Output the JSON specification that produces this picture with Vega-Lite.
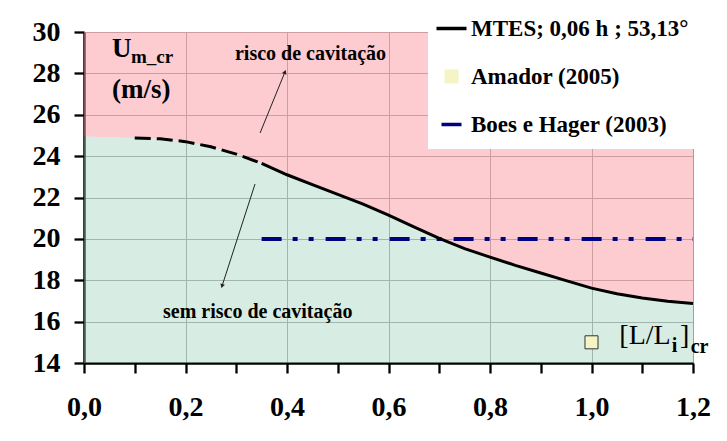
{
  "$schema": "https://vega.github.io/schema/vega-lite/v6.json",
  "width": 609,
  "height": 331,
  "autosize": {"type": "none"},
  "padding": {"left": 84, "top": 32, "right": 34, "bottom": 78},
  "background": "white",
  "datasets": {
    "curve": [
      {"x": 0.0, "y": 24.95, "part": "edge"},
      {"x": 0.1, "y": 24.88, "part": "dashed"},
      {"x": 0.15, "y": 24.84, "part": "dashed"},
      {"x": 0.2, "y": 24.7, "part": "dashed"},
      {"x": 0.25, "y": 24.45, "part": "dashed"},
      {"x": 0.3, "y": 24.1, "part": "dashed"},
      {"x": 0.35, "y": 23.65, "part": "dashed"},
      {"x": 0.35, "y": 23.65, "part": "solid"},
      {"x": 0.4, "y": 23.1, "part": "solid"},
      {"x": 0.45, "y": 22.62, "part": "solid"},
      {"x": 0.5, "y": 22.15, "part": "solid"},
      {"x": 0.55, "y": 21.68, "part": "solid"},
      {"x": 0.6, "y": 21.15, "part": "solid"},
      {"x": 0.65, "y": 20.58, "part": "solid"},
      {"x": 0.7, "y": 20.02, "part": "solid"},
      {"x": 0.75, "y": 19.53, "part": "solid"},
      {"x": 0.8, "y": 19.12, "part": "solid"},
      {"x": 0.85, "y": 18.72, "part": "solid"},
      {"x": 0.9, "y": 18.35, "part": "solid"},
      {"x": 0.95, "y": 17.98, "part": "solid"},
      {"x": 1.0, "y": 17.62, "part": "solid"},
      {"x": 1.05, "y": 17.35, "part": "solid"},
      {"x": 1.1, "y": 17.14, "part": "solid"},
      {"x": 1.15, "y": 16.98, "part": "solid"},
      {"x": 1.2, "y": 16.88, "part": "solid"}
    ],
    "boes": [
      {"x": 0.35, "y": 20},
      {"x": 1.2, "y": 20}
    ],
    "amador": [
      {"x": 1.0, "y": 15}
    ],
    "arrows": [
      {"dir": "up", "x": 0.347, "y": 25.12, "x2": 0.396, "y2": 28.07},
      {"dir": "down", "x": 0.337, "y": 22.65, "x2": 0.272, "y2": 17.72}
    ],
    "notes": [
      {"text": "risco de cavitação", "x": 0.2975, "y": 28.65},
      {"text": "sem risco de cavitação", "x": 0.1557, "y": 16.18},
      {"text": "U", "x": 0.0552, "y": 28.8},
      {"text": "m_cr", "x": 0.0926, "y": 28.49},
      {"text": "(m/s)", "x": 0.0552, "y": 26.8},
      {"text": "[L/L", "x": 1.0548, "y": 14.92},
      {"text": "i", "x": 1.158, "y": 14.55},
      {"text": "]", "x": 1.1744, "y": 14.92},
      {"text": "cr", "x": 1.1954, "y": 14.5}
    ]
  },
  "layer": [
    {
      "data": {"name": "curve"},
      "transform": [{"filter": "datum.part !== 'dashed' || datum.x < 0.35"}],
      "mark": {"type": "area", "fill": "#f99aa4", "fillOpacity": 0.5, "stroke": null},
      "encoding": {
        "x": {
          "field": "x", "type": "quantitative",
          "scale": {"domain": [0, 1.2], "nice": false, "zero": false},
          "axis": {
            "values": [0, 0.05, 0.1, 0.15, 0.2, 0.25, 0.3, 0.35, 0.4, 0.45, 0.5, 0.55, 0.6, 0.65, 0.7, 0.75, 0.8, 0.85, 0.9, 0.95, 1.0, 1.05, 1.1, 1.15, 1.2],
            "title": null, "grid": true, "gridColor": "#a0a0a0", "gridWidth": 1,
            "gridOpacity": {"condition": {"test": "abs(datum.value*5 - round(datum.value*5)) < 0.000001", "value": 1}, "value": 0},
            "domain": true, "domainColor": "black", "domainWidth": 2.5,
            "ticks": true, "tickSize": 10, "tickColor": "black", "tickWidth": 2.3,
            "labelFont": "Liberation Serif", "labelFontWeight": "bold", "labelFontSize": 28,
            "labelColor": "black", "labelPadding": 20, "labelFlush": false, "labelOverlap": false,
            "labelExpr": "abs(datum.value*5 - round(datum.value*5)) < 0.000001 ? replace(format(datum.value, '.1f'), '.', ',') : ''",
            "encode": {
              "ticks": {
                "update": {
                  "y": {"signal": "abs(datum.value*5 - round(datum.value*5)) < 0.000001 ? -10 : -8"},
                  "y2": {"signal": "abs(datum.value*5 - round(datum.value*5)) < 0.000001 ? 10 : 0"}
                }
              }
            }
          }
        },
        "y": {
          "field": "y", "type": "quantitative",
          "scale": {"domain": [14, 30], "nice": false, "zero": false},
          "axis": {
            "values": [14, 15, 16, 17, 18, 19, 20, 21, 22, 23, 24, 25, 26, 27, 28, 29, 30],
            "title": null, "grid": true, "gridColor": "#a0a0a0", "gridWidth": 1,
            "gridOpacity": {"condition": {"test": "datum.value % 2 === 0", "value": 1}, "value": 0},
            "domain": true, "domainColor": "black", "domainWidth": 2.5,
            "ticks": true, "tickSize": 10, "tickColor": "black", "tickWidth": 2.3,
            "labelFont": "Liberation Serif", "labelFontWeight": "bold", "labelFontSize": 28,
            "labelColor": "black", "labelPadding": 14, "labelFlush": false, "labelOverlap": false,
            "labelExpr": "datum.value % 2 === 0 ? datum.label : ''",
            "encode": {
              "ticks": {
                "update": {
                  "x": {"signal": "datum.value % 2 === 0 ? 10 : 8"},
                  "x2": {"signal": "datum.value % 2 === 0 ? -10 : 0"}
                }
              }
            }
          }
        },
        "y2": {"datum": 30}
      }
    },
    {
      "data": {"name": "curve"},
      "transform": [{"filter": "datum.part !== 'dashed' || datum.x < 0.35"}],
      "mark": {"type": "area", "fill": "#9fd4bc", "fillOpacity": 0.42, "stroke": null},
      "encoding": {
        "x": {"field": "x", "type": "quantitative"},
        "y": {"field": "y", "type": "quantitative"},
        "y2": {"datum": 14}
      }
    },
    {
      "data": {"name": "boes"},
      "mark": {"type": "line", "strokeWidth": 4, "strokeDash": [20, 11, 5, 11, 5, 12]},
      "encoding": {
        "x": {"field": "x", "type": "quantitative"},
        "y": {"field": "y", "type": "quantitative"},
        "color": {"datum": "Boes e Hager (2003)"}
      }
    },
    {
      "data": {"name": "curve"},
      "transform": [{"filter": "datum.part === 'dashed'"}],
      "mark": {"type": "line", "strokeWidth": 3, "strokeDash": [16, 6]},
      "encoding": {
        "x": {"field": "x", "type": "quantitative"},
        "y": {"field": "y", "type": "quantitative"},
        "color": {"datum": "MTES; 0,06 h ; 53,13°"}
      }
    },
    {
      "data": {"name": "curve"},
      "transform": [{"filter": "datum.part === 'solid'"}],
      "mark": {"type": "line", "strokeWidth": 3},
      "encoding": {
        "x": {"field": "x", "type": "quantitative"},
        "y": {"field": "y", "type": "quantitative"},
        "color": {
          "datum": "MTES; 0,06 h ; 53,13°",
          "scale": {
            "domain": ["MTES; 0,06 h ; 53,13°", "Amador (2005)", "Boes e Hager (2003)"],
            "range": ["#000000", "#f4f4c4", "#000080"]
          },
          "legend": {
            "orient": "none", "legendX": 344, "legendY": -27,
            "title": null, "fillColor": "white", "padding": 12, "zindex": 2,
            "symbolSize": 900, "symbolType": "stroke", "symbolStrokeWidth": 3.5,
            "labelFont": "Liberation Serif", "labelFontWeight": "bold", "labelFontSize": 23,
            "labelColor": "black", "labelLimit": 400, "labelOffset": 8, "rowPadding": 24,
            "encode": {
              "symbols": {
                "update": {
                  "shape": {"signal": "datum.value === 'Amador (2005)' ? 'square' : 'stroke'"},
                  "size": {"signal": "datum.value === 'Amador (2005)' ? 170 : (datum.value === 'Boes e Hager (2003)' ? 400 : 900)"},
                  "fill": {"signal": "datum.value === 'Amador (2005)' ? '#f4f4c4' : 'transparent'"},
                  "stroke": {"signal": "datum.value === 'Amador (2005)' ? '#333333' : (datum.value === 'Boes e Hager (2003)' ? '#000080' : '#000000')"},
                  "strokeWidth": {"signal": "datum.value === 'Amador (2005)' ? 1 : 3.5"},
                  "strokeDash": {"value": [1, 0]},
                  "opacity": {"value": 1}
                }
              }
            }
          }
        }
      }
    },
    {
      "data": {"name": "amador"},
      "mark": {"type": "point", "shape": "square", "filled": true, "size": 170, "stroke": "#333333", "strokeWidth": 1, "opacity": 1},
      "encoding": {
        "x": {"field": "x", "type": "quantitative"},
        "y": {"field": "y", "type": "quantitative"},
        "color": {"datum": "Amador (2005)"}
      }
    },
    {
      "data": {"name": "arrows"},
      "mark": {"type": "rule", "color": "#222222", "strokeWidth": 1},
      "encoding": {
        "x": {"field": "x", "type": "quantitative"},
        "y": {"field": "y", "type": "quantitative"},
        "x2": {"field": "x2"},
        "y2": {"field": "y2"}
      }
    },
    {
      "data": {"name": "arrows"},
      "transform": [{"filter": "datum.dir === 'up'"}],
      "mark": {"type": "point", "shape": "triangle-up", "filled": true, "color": "#222222", "size": 22, "angle": 22, "opacity": 1},
      "encoding": {
        "x": {"field": "x2", "type": "quantitative"},
        "y": {"field": "y2", "type": "quantitative"}
      }
    },
    {
      "data": {"name": "arrows"},
      "transform": [{"filter": "datum.dir === 'down'"}],
      "mark": {"type": "point", "shape": "triangle-up", "filled": true, "color": "#222222", "size": 22, "angle": 198, "opacity": 1},
      "encoding": {
        "x": {"field": "x2", "type": "quantitative"},
        "y": {"field": "y2", "type": "quantitative"}
      }
    },
    {
      "data": {"name": "notes"},
      "transform": [{"filter": "datum.text === 'risco de cavitação' || datum.text === 'sem risco de cavitação'"}],
      "mark": {"type": "text", "font": "Liberation Serif", "fontWeight": "bold", "fontSize": 20, "align": "left", "baseline": "alphabetic", "color": "black"},
      "encoding": {
        "x": {"field": "x", "type": "quantitative"},
        "y": {"field": "y", "type": "quantitative"},
        "text": {"field": "text"}
      }
    },
    {
      "data": {"name": "notes"},
      "transform": [{"filter": "datum.text === 'U' || datum.text === '(m/s)'"}],
      "mark": {"type": "text", "font": "Liberation Serif", "fontWeight": "bold", "fontSize": 27, "align": "left", "baseline": "alphabetic", "color": "black"},
      "encoding": {
        "x": {"field": "x", "type": "quantitative"},
        "y": {"field": "y", "type": "quantitative"},
        "text": {"field": "text"}
      }
    },
    {
      "data": {"name": "notes"},
      "transform": [{"filter": "datum.text === 'm_cr'"}],
      "mark": {"type": "text", "font": "Liberation Serif", "fontWeight": "bold", "fontSize": 19, "align": "left", "baseline": "alphabetic", "color": "black"},
      "encoding": {
        "x": {"field": "x", "type": "quantitative"},
        "y": {"field": "y", "type": "quantitative"},
        "text": {"field": "text"}
      }
    },
    {
      "data": {"name": "notes"},
      "transform": [{"filter": "datum.text === '[L/L' || datum.text === ']'"}],
      "mark": {"type": "text", "font": "Liberation Serif", "fontSize": 28, "align": "left", "baseline": "alphabetic", "color": "black"},
      "encoding": {
        "x": {"field": "x", "type": "quantitative"},
        "y": {"field": "y", "type": "quantitative"},
        "text": {"field": "text"}
      }
    },
    {
      "data": {"name": "notes"},
      "transform": [{"filter": "datum.text === 'i' || datum.text === 'cr'"}],
      "mark": {"type": "text", "font": "Liberation Serif", "fontWeight": "bold", "fontSize": 20, "align": "left", "baseline": "alphabetic", "color": "black"},
      "encoding": {
        "x": {"field": "x", "type": "quantitative"},
        "y": {"field": "y", "type": "quantitative"},
        "text": {"field": "text"}
      }
    },
    {
      "mark": {"type": "rule", "color": "black", "strokeWidth": 2.5},
      "encoding": {
        "x": {"datum": -0.1413},
        "y": {"datum": 31.22},
        "y2": {"datum": 10}
      }
    },
    {
      "mark": {"type": "rule", "color": "black", "strokeWidth": 2.5},
      "encoding": {
        "x": {"datum": -0.1413},
        "x2": {"datum": 1.3},
        "y": {"datum": 31.22}
      }
    }
  ],
  "config": {"view": {"stroke": null}}
}
